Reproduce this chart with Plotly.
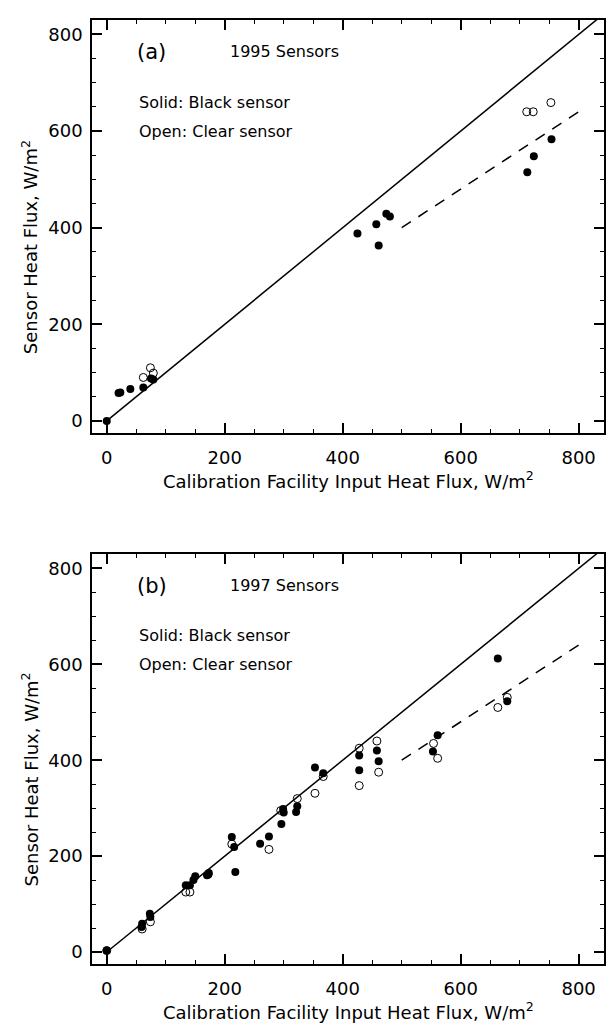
import plotly.graph_objects as go

# panel (a): 1995 sensors
a_black_x = [0, 20, 23, 40, 62, 75, 79, 425, 457, 461, 474, 480, 713, 724, 754]
a_black_y = [0, 58, 59, 66, 69, 88, 86, 388, 407, 363, 429, 423, 515, 548, 583]
a_open_x = [62, 74, 79, 712, 723, 753]
a_open_y = [90, 110, 99, 640, 640, 659]

# panel (b): 1997 sensors
b_black_x = [0, 59, 60, 73, 74, 134, 141, 147, 150, 170, 173, 212, 216, 218, 260, 275,
             296, 299, 300, 321, 323, 353, 367, 428, 428, 458, 461, 553, 561, 663, 679]
b_black_y = [3, 52, 59, 80, 73, 139, 139, 150, 158, 160, 165, 240, 219, 167, 226, 241,
             267, 298, 291, 292, 304, 385, 373, 410, 379, 420, 398, 418, 452, 612, 523]
b_open_x = [0, 60, 74, 134, 141, 172, 212, 275, 295, 323, 353, 367, 428, 428, 458, 461,
            554, 561, 663, 679]
b_open_y = [3, 48, 63, 125, 125, 162, 225, 214, 295, 320, 331, 366, 425, 347, 440, 375,
            435, 404, 510, 531]

one_to_one = [0, 850]
fit_x = [500, 800]
fit_slope = 0.8

FONT = "DejaVu Sans"

fig = go.Figure()

for xa, ya, bx, by, ox, oy in [("x", "y", a_black_x, a_black_y, a_open_x, a_open_y),
                               ("x2", "y2", b_black_x, b_black_y, b_open_x, b_open_y)]:
    fig.add_trace(go.Scatter(x=one_to_one, y=one_to_one, mode="lines", xaxis=xa, yaxis=ya,
                             line=dict(color="black", width=1.5), showlegend=False))
    fig.add_trace(go.Scatter(x=fit_x, y=[fit_slope * v for v in fit_x], mode="lines",
                             xaxis=xa, yaxis=ya, showlegend=False,
                             line=dict(color="black", width=1.5, dash="11px,9px")))
    fig.add_trace(go.Scatter(x=ox, y=oy, mode="markers", xaxis=xa, yaxis=ya, showlegend=False,
                             marker=dict(symbol="circle-open", size=8, color="black",
                                         line=dict(width=1))))
    fig.add_trace(go.Scatter(x=bx, y=by, mode="markers", xaxis=xa, yaxis=ya, showlegend=False,
                             marker=dict(symbol="circle", size=8, color="black")))

common = dict(tickvals=[0, 200, 400, 600, 800], ticks="inside", ticklen=10, tickwidth=1.5,
              tickcolor="black", showline=True, linewidth=1.5, linecolor="black",
              mirror="allticks", showgrid=False, zeroline=False,
              tickfont=dict(family=FONT, size=18, color="black"),
              minor=dict(dtick=50, tick0=0, ticks="inside", ticklen=4, tickwidth=1,
                         tickcolor="black"))
xax = dict(common, range=[-25, 843], ticklabelstandoff=8)
yax = dict(common, range=[-25, 830], ticklabelstandoff=4)

fig.update_layout(
    width=607, height=1024,
    margin=dict(l=92, r=1, t=20, b=60),
    paper_bgcolor="white", plot_bgcolor="white",
    xaxis=dict(xax, anchor="y", domain=[0, 1]),
    yaxis=dict(yax, anchor="x", domain=[0.5625, 1]),
    xaxis2=dict(xax, anchor="y2", domain=[0, 1]),
    yaxis2=dict(yax, anchor="x2", domain=[0, 0.4343]),
)

for xr, yr, tag, year in [("x", "y", "(a)", "1995 Sensors"), ("x2", "y2", "(b)", "1997 Sensors")]:
    fig.add_annotation(x=76, y=764, xref=xr, yref=yr, text=tag, showarrow=False,
                       font=dict(family=FONT, size=21, color="black"))
    fig.add_annotation(x=205, y=764, xref=xr, yref=yr, text=year, showarrow=False,
                       xanchor="left", font=dict(family=FONT, size=16, color="black"))
    fig.add_annotation(x=51, y=660, xref=xr, yref=yr, text="Solid: Black sensor",
                       showarrow=False, xanchor="left",
                       font=dict(family=FONT, size=16, color="black"))
    fig.add_annotation(x=51, y=600, xref=xr, yref=yr, text="Open: Clear sensor",
                       showarrow=False, xanchor="left",
                       font=dict(family=FONT, size=16, color="black"))
    # axis titles
    fig.add_annotation(x=0.5, y=0, xref=xr + " domain", yref=yr + " domain",
                       text="Calibration Facility Input Heat Flux, W/m<sup>2</sup>",
                       showarrow=False, yanchor="top", yshift=-33,
                       font=dict(family=FONT, size=18, color="black"))
    fig.add_annotation(x=0, y=0.45, xref=xr + " domain", yref=yr + " domain",
                       text="Sensor Heat Flux, W/m<sup>2</sup>", textangle=-90,
                       showarrow=False, xanchor="center", xshift=-62,
                       font=dict(family=FONT, size=18, color="black"))

fig.write_html("out.html", config={"displayModeBar": False},
               post_script="document.body.style.margin='0';document.body.style.overflow='hidden';")
